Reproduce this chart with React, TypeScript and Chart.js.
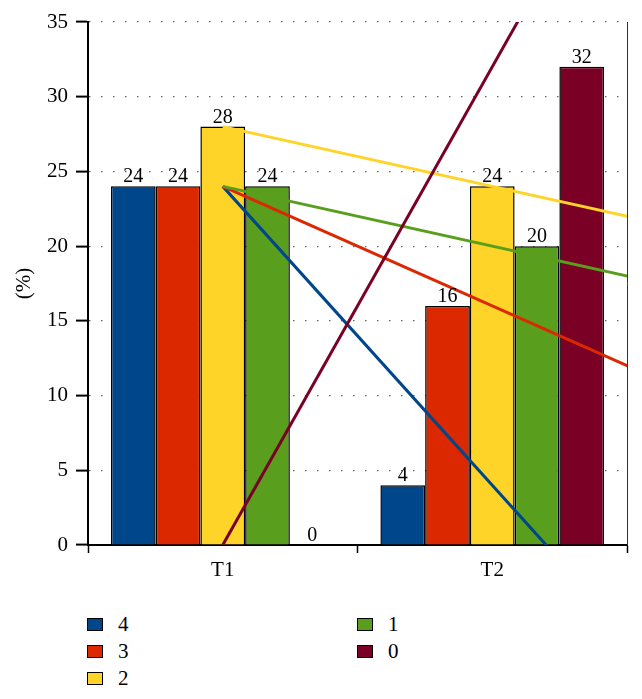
import { useEffect, useRef } from 'react';
import { Chart, registerables } from 'chart.js';

Chart.register(...registerables);

const categories = ['T1', 'T2'];
const seriesNames = ['4', '3', '2', '1', '0'];
const series4 = [24, 4];
const series3 = [24, 16];
const series2 = [28, 24];
const series1 = [24, 20];
const series0 = [0, 32];
const seriesValues = [series4, series3, series2, series1, series0];
const seriesColors = ['#00468a', '#dc2800', '#ffd428', '#5a9e1e', '#7a0025'];
const yAxisTitle = '(%)';
const yMin = 0;
const yMax = 35;
const yStep = 5;

const FONT = "'Liberation Serif', 'DejaVu Serif', serif";

const overlayPlugin = {
  id: 'overlay',
  afterDatasetsDraw(chart: any) {
    const { ctx, chartArea, scales } = chart;
    const x = scales.x;
    const y = scales.y;
    // trend lines through the two category points, extended to the right edge
    ctx.save();
    ctx.beginPath();
    ctx.rect(chartArea.left, chartArea.top, chartArea.right - chartArea.left, chartArea.bottom - chartArea.top);
    ctx.clip();
    chart.data.datasets.forEach((ds: any) => {
      const x0 = x.getPixelForValue(0);
      const x1 = x.getPixelForValue(1);
      const y0 = y.getPixelForValue(ds.data[0]);
      const y1 = y.getPixelForValue(ds.data[1]);
      const xe = chartArea.right + 40;
      const ye = y0 + ((y1 - y0) * (xe - x0)) / (x1 - x0);
      ctx.beginPath();
      ctx.strokeStyle = ds.backgroundColor;
      ctx.lineWidth = 3;
      ctx.moveTo(x0, y0);
      ctx.lineTo(xe, ye);
      ctx.stroke();
    });
    ctx.restore();

    // value labels
    ctx.save();
    ctx.fillStyle = '#000';
    ctx.font = `20px ${FONT}`;
    ctx.textAlign = 'center';
    ctx.textBaseline = 'alphabetic';
    chart.data.datasets.forEach((ds: any, i: number) => {
      const meta = chart.getDatasetMeta(i);
      meta.data.forEach((bar: any, j: number) => {
        ctx.fillText(String(ds.data[j]), bar.x, bar.y - 4);
      });
    });
    ctx.restore();

    // right frame line
    ctx.save();
    ctx.strokeStyle = '#333';
    ctx.lineWidth = 1;
    ctx.beginPath();
    ctx.moveTo(Math.round(chartArea.right) + 0.5, chartArea.top);
    ctx.lineTo(Math.round(chartArea.right) + 0.5, chartArea.bottom);
    ctx.stroke();
    ctx.restore();
  },
};

export default function App() {
  const canvasRef = useRef<HTMLCanvasElement | null>(null);

  useEffect(() => {
    if (!canvasRef.current) return;
    const chart = new Chart(canvasRef.current, {
      type: 'bar',
      data: {
        labels: categories,
        datasets: seriesNames.map((name, i) => ({
          label: name,
          data: seriesValues[i],
          backgroundColor: seriesColors[i],
          borderColor: '#000',
          borderWidth: 1.5,
          categoryPercentage: 0.83,
          barPercentage: 1,
        })),
      },
      options: {
        animation: false,
        responsive: true,
        maintainAspectRatio: false,
        layout: { padding: { left: 0, right: 15, top: 22, bottom: 0 } },
        plugins: {
          legend: { display: false },
          tooltip: { enabled: false },
        },
        scales: {
          x: {
            afterFit: (s: any) => {
              s.height = 55;
            },
            grid: {
              offset: true,
              drawOnChartArea: false,
              drawTicks: true,
              tickLength: 8,
              tickColor: '#000',
              tickWidth: 1.5,
            },
            border: { display: true, color: '#000', width: 2 },
            ticks: {
              color: '#000',
              padding: 5,
              font: { family: FONT, size: 21 },
            },
          },
          y: {
            min: yMin,
            max: yMax,
            afterFit: (s: any) => {
              s.width = 88;
            },
            ticks: {
              stepSize: yStep,
              color: '#000',
              padding: 8,
              font: { family: FONT, size: 21 },
            },
            grid: {
              color: '#666',
              lineWidth: 1.2,
              drawTicks: true,
              tickLength: 12,
              tickColor: '#000',
              tickWidth: 2,
              tickBorderDash: [],
            },
            border: { display: true, color: '#000', width: 2, dash: [1.5, 10.5] },
            title: {
              display: true,
              text: yAxisTitle,
              color: '#000',
              font: { family: FONT, size: 21 },
              padding: { top: 12, bottom: 0 },
            },
          },
        },
      },
      plugins: [overlayPlugin],
    });
    return () => chart.destroy();
  }, []);

  return (
    <div style={{ position: 'absolute', left: 0, top: 0, width: 642, height: 686, overflow: 'hidden', background: '#fff' }}>
      <div style={{ position: 'absolute', left: 0, top: 0, width: 642, height: 600 }}>
        <canvas ref={canvasRef} />
      </div>
      {seriesNames.map((name, i) => {
        const col = i < 3 ? 0 : 1;
        const row = i < 3 ? i : i - 3;
        return (
          <div
            key={name}
            style={{
              position: 'absolute',
              left: col === 0 ? 87 : 357,
              top: 611 + row * 27,
              height: 26,
              display: 'flex',
              alignItems: 'center',
              fontFamily: FONT,
              fontSize: 21,
              color: '#000',
            }}
          >
            <span
              style={{
                display: 'inline-block',
                width: 16,
                height: 13,
                boxSizing: 'border-box',
                border: '1px solid #000',
                background: seriesColors[i],
              }}
            />
            <span style={{ marginLeft: 15 }}>{name}</span>
          </div>
        );
      })}
    </div>
  );
}
